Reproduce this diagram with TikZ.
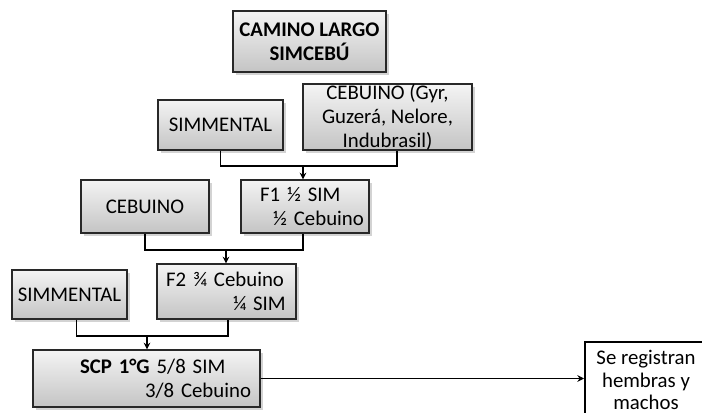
\documentclass[tikz,border=0pt]{standalone}
\usepackage{fontspec}
\setmainfont{Carlito}
\usetikzlibrary{arrows.meta,shadows}

\definecolor{grisclaro}{RGB}{244,244,244}
\definecolor{grisoscuro}{RGB}{196,196,196}
\definecolor{borde}{RGB}{40,40,40}

\tikzset{
  razabox/.style={draw=borde, line width=0.9pt, top color=grisclaro, bottom color=grisoscuro,
    drop shadow={shadow xshift=2pt, shadow yshift=-2pt, opacity=0.35},
    align=center, inner sep=0pt, font=\fontsize{15.6}{18}\selectfont},
  cruce/.style={line width=1pt},
  flecha/.style={line width=1pt, -{Stealth[length=5pt,width=5pt]}}
}

\begin{document}
\begin{tikzpicture}[x=0.75pt,y=0.75pt,yscale=-1,xscale=1]
\useasboundingbox (0,0) rectangle (702,413);

% Text Node
\node (titulo) [razabox, minimum width=114.75pt, minimum height=45.75pt] at (309.5,41.5)
  {\textbf{CAMINO LARGO}\\\textbf{SIMCEBÚ}};
% Text Node
\node (sim1) [razabox, minimum width=93.75pt, minimum height=37.5pt] at (220.5,125) {SIMMENTAL};
% Text Node
\node (ceb1) [razabox, minimum width=126.75pt, minimum height=49.5pt] at (387.5,117)
  {CEBUINO (Gyr,\\Guzerá, Nelore,\\Indubrasil)};
% Text Node
\node (ceb2) [razabox, minimum width=96pt, minimum height=39.75pt] at (145,206.5) {CEBUINO};
% Text Node
\node (f1) [razabox, text width=96pt, minimum height=39.75pt, align=left] at (305,206.5)
  {\hspace*{14.25pt}F1 ½ SIM\\\hspace*{24pt}½ Cebuino};
% Text Node
\node (sim2) [razabox, minimum width=86.25pt, minimum height=36.75pt] at (69.5,294.5) {SIMMENTAL};
% Text Node
\node (f2) [razabox, text width=104.25pt, minimum height=41.25pt, align=left] at (226.5,291.5)
  {\hspace*{6.75pt}F2 ¾ Cebuino\\\hspace*{57pt}¼ SIM};
% Text Node
\node (scp) [razabox, text width=170.25pt, minimum height=42.75pt, align=left] at (146.5,378.5)
  {\hspace*{35.25pt}\textbf{SCP 1°G} 5/8 SIM\\\hspace*{84pt}3/8 Cebuino};
% Text Node
\node (reg) [draw=black, line width=1.5pt, fill=white, minimum width=91.5pt, minimum height=57pt,
  align=center, inner sep=0pt, font=\fontsize{15.6}{16.8}\selectfont] at (646,380)
  {Se registran\\hembras y\\machos};

%Straight Lines
\coordinate (j1) at (303,166);
\draw [cruce] (sim1.south) |- (j1) -| ([xshift=7pt]ceb1.south);
\draw [flecha] (j1) -- (j1 |- f1.north);
%Straight Lines
\coordinate (j2) at (226,250);
\draw [cruce] (ceb2.south) |- (j2) -| ([xshift=-1.5pt]f1.south);
\draw [flecha] (j2) -- (j2 |- f2.north);
%Straight Lines
\coordinate (j3) at (147,336);
\draw [cruce] ([xshift=5pt]sim2.south) |- (j3) -| ([xshift=1pt]f2.south);
\draw [flecha] (j3) -- (j3 |- scp.north);
%Straight Lines
\draw [flecha] (scp.east) -- (scp.east -| reg.west);

\end{tikzpicture}
\end{document}
